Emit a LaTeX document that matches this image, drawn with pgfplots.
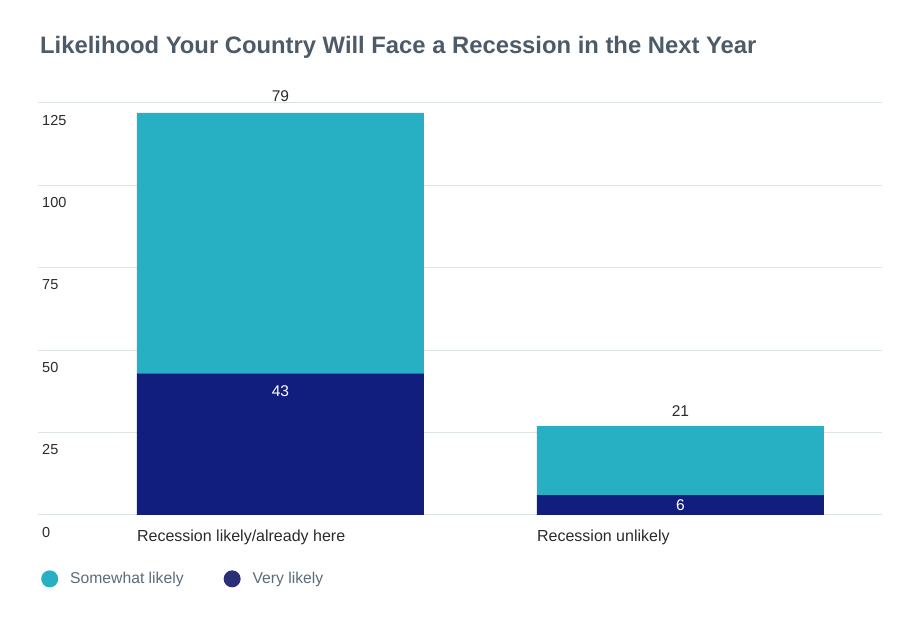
\documentclass[border=0pt]{standalone}
\usepackage{pgfplots}
\pgfplotsset{compat=1.18}
\usepackage{fontspec}
\setmainfont{Liberation Sans}
\definecolor{teal1}{HTML}{27AFC3}
\definecolor{navy1}{HTML}{111E7E}
\definecolor{navyleg}{HTML}{2B2F78}
\definecolor{titlec}{HTML}{4D5B68}
\definecolor{legc}{HTML}{5B6B79}
\definecolor{gridc}{HTML}{DDE4E8}
\definecolor{txt}{HTML}{2A2A2A}
\begin{document}
\begin{tikzpicture}
\useasboundingbox (0,0) rectangle (920pt,620pt);
\node[anchor=base west, inner sep=0pt, text=titlec, font=\fontsize{23.8}{26}\selectfont\bfseries] at (40pt,566pt) {Likelihood Your Country Will Face a Recession in the Next Year};
\begin{axis}[
  at={(38pt,105pt)}, anchor=south west,
  scale only axis, width=844pt, height=412pt,
  xmin=-0.606, xmax=1.504, ymin=0, ymax=125,
  clip=false,
  axis line style={draw=none},
  major tick length=0pt,
  ymajorgrids, grid style={color=gridc, line width=1pt},
  ytick={0,25,50,75,100,125},
  xtick={0,1},
  xticklabels={Recession likely/already here, Recession unlikely},
  /pgf/number format/assume math mode=true,
  ticklabel style={text=txt},
  yticklabel style={font=\fontsize{14.5}{17}\selectfont, anchor=north west, inner sep=0pt, xshift=4pt, yshift=-12pt},
  xticklabel style={font=\fontsize{16}{18}\selectfont, anchor=north west, inner sep=0pt, xshift=-143.5pt, yshift=-15pt},
  ybar stacked, bar width=287pt,
  reverse legend,
  legend style={at={(0.0,-0.155)}, anchor=west, draw=none, fill=none,
    font=\fontsize{15.7}{18}\selectfont, text=legc,
    /tikz/every even column/.append style={column sep=38pt}},
  legend columns=2,
]
\addplot[fill=navy1, draw=none, point meta=explicit,
  nodes near coords,
  visualization depends on={value \coordindex \as \idx},
  nodes near coords style={text=white, font=\fontsize{15.5}{18}\selectfont, anchor=center, yshift={ifthenelse(\idx==0,53,0)}},
  legend image code/.code={\fill[navyleg] (8.5pt,0pt) circle (8.5pt); \path (27pt,0pt);}]
  coordinates {(0,43)[43] (1,6)[6]};
\addlegendentry{Very likely}
\addplot[fill=teal1, draw=none, point meta=explicit,
  nodes near coords,
  visualization depends on={value \coordindex \as \idx},
  nodes near coords style={text=txt, font=\fontsize{15.5}{18}\selectfont, anchor=center, yshift={ifthenelse(\idx==0,146.5,50)}},
  legend image code/.code={\fill[teal1] (8.5pt,0pt) circle (8.5pt); \path (27pt,0pt);}]
  coordinates {(0,79)[79] (1,21)[21]};
\addlegendentry{Somewhat likely}
\end{axis}
\end{tikzpicture}
\end{document}
